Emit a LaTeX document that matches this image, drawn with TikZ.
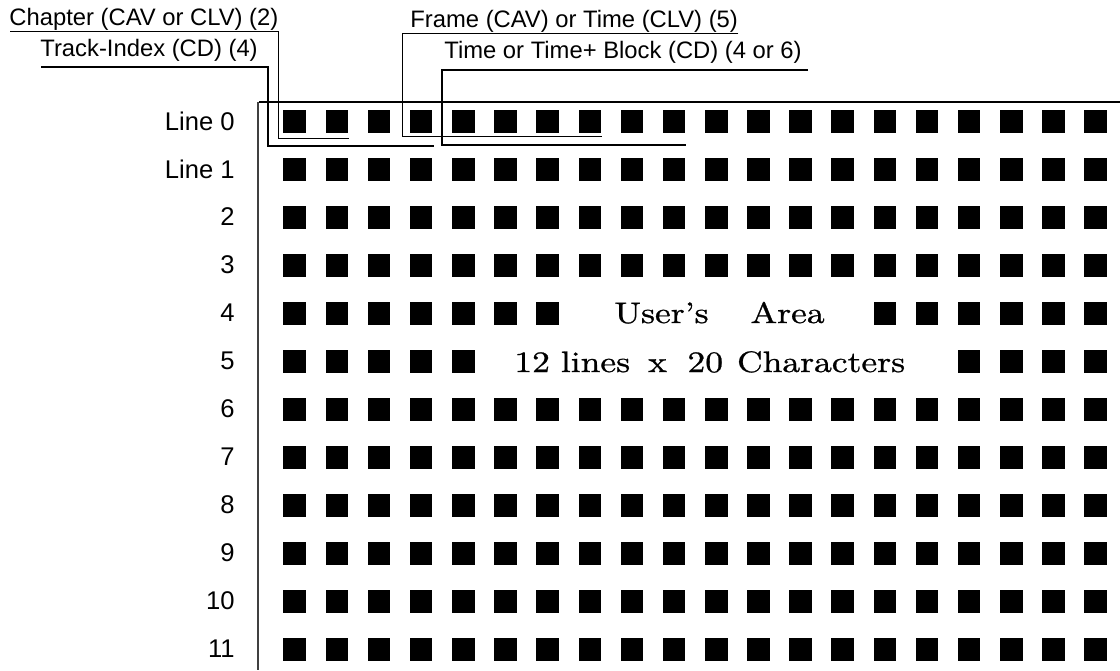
\documentclass[tikz,border=0pt]{standalone}
\usepackage{fontspec}
\usepackage{tikz}
\usetikzlibrary{calc}
\newfontfamily\labelfont{Liberation Sans}
\newfontfamily\areafont{lmroman10-regular.otf}[FakeStretch=1.2, FakeBold=0.9]

\begin{document}
\begin{tikzpicture}[
    x=0.5pt, y=-0.5pt,
    cell/.style={rectangle, fill=black, draw=none, minimum width=11.25pt,
        minimum height=11.25pt, inner sep=0pt, anchor=north west},
    rowlab/.style={anchor=east, inner sep=0pt, font=\labelfont\fontsize{12.8}{14}\selectfont},
    note/.style={anchor=base west, inner sep=0pt, font=\labelfont\fontsize{11.9}{14}\selectfont},
    area/.style={anchor=base west, inner sep=0pt, font=\areafont\fontsize{14.8}{17}\selectfont},
    thinbr/.style={line width=0.5pt},
    thickbr/.style={line width=1pt}
]
    \useasboundingbox (0,0) rectangle (1120,670);

    % screen frame
    \draw[line width=0.6pt] (1120,102) -- (259,102);
    \draw[line width=0.7pt, black!75] (258,102) -- (258,670);

    % character cells, 12 lines x 20
    \foreach \r in {0,...,11}
        \foreach \c in {0,...,19} {
            \pgfmathtruncatemacro\hole{or(and(\r==4,and(\c>6,\c<14)),and(\r==5,and(\c>4,\c<16)))}
            \ifnum\hole=0
                \node[cell] (sq-\r-\c) at ({283+42.16*\c},{110+48*\r}) {};
            \fi
        }

    % line numbers
    \node[rowlab] (l0) at (235,121) {Line 0};
    \node[rowlab] (l1) at (235,169) {Line 1};
    \foreach \r in {2,...,11}
        \node[rowlab] (l\r) at (235,{121+48*\r}) {\r};

    % user's area
    \node[area] (user) at (614,323) {User’s\hspace{21pt}Area};
    \node[area] (size) at (514,372) {12\hspace{5.5pt}lines\hspace{9pt}x\hspace{10.3pt}20\hspace{7pt}Characters};

    % field labels
    \node[note] (chap) at (9,25) {Chapter (CAV or CLV) (2)};
    \node[note] (track) at (40,56) {Track-Index (CD) (4)};
    \node[note] (frame) at (410,27) {Frame (CAV) or Time (CLV) (5)};
    \node[note] (tblock) at (444,58) {Time or Time+ Block (CD) (4 or 6)};

    % brackets
    \draw[thinbr] ($(chap.base west)+(1,6)$) -| ($(sq-0-0.south west)+(-5,5)$)
        -- ($(sq-0-1.south east)+(1,5)$);
    \draw[thickbr] ($(track.base west)+(1,11)$) -| ($(sq-0-0.south west)+(-15,13)$)
        -- ($(sq-0-3.south east)+(1,13)$);
    \draw[thinbr] ($(frame.base east)+(0,6)$) -| ($(sq-0-3.south west)+(-7,3)$)
        -- ($(sq-0-7.south east)+(1,3)$);
    \draw[thickbr] ($(tblock.base east)+(6,12)$) -| ($(sq-0-4.south west)+(-10,12)$)
        -- ($(sq-0-9.south east)+(0,12)$);
\end{tikzpicture}
\end{document}
